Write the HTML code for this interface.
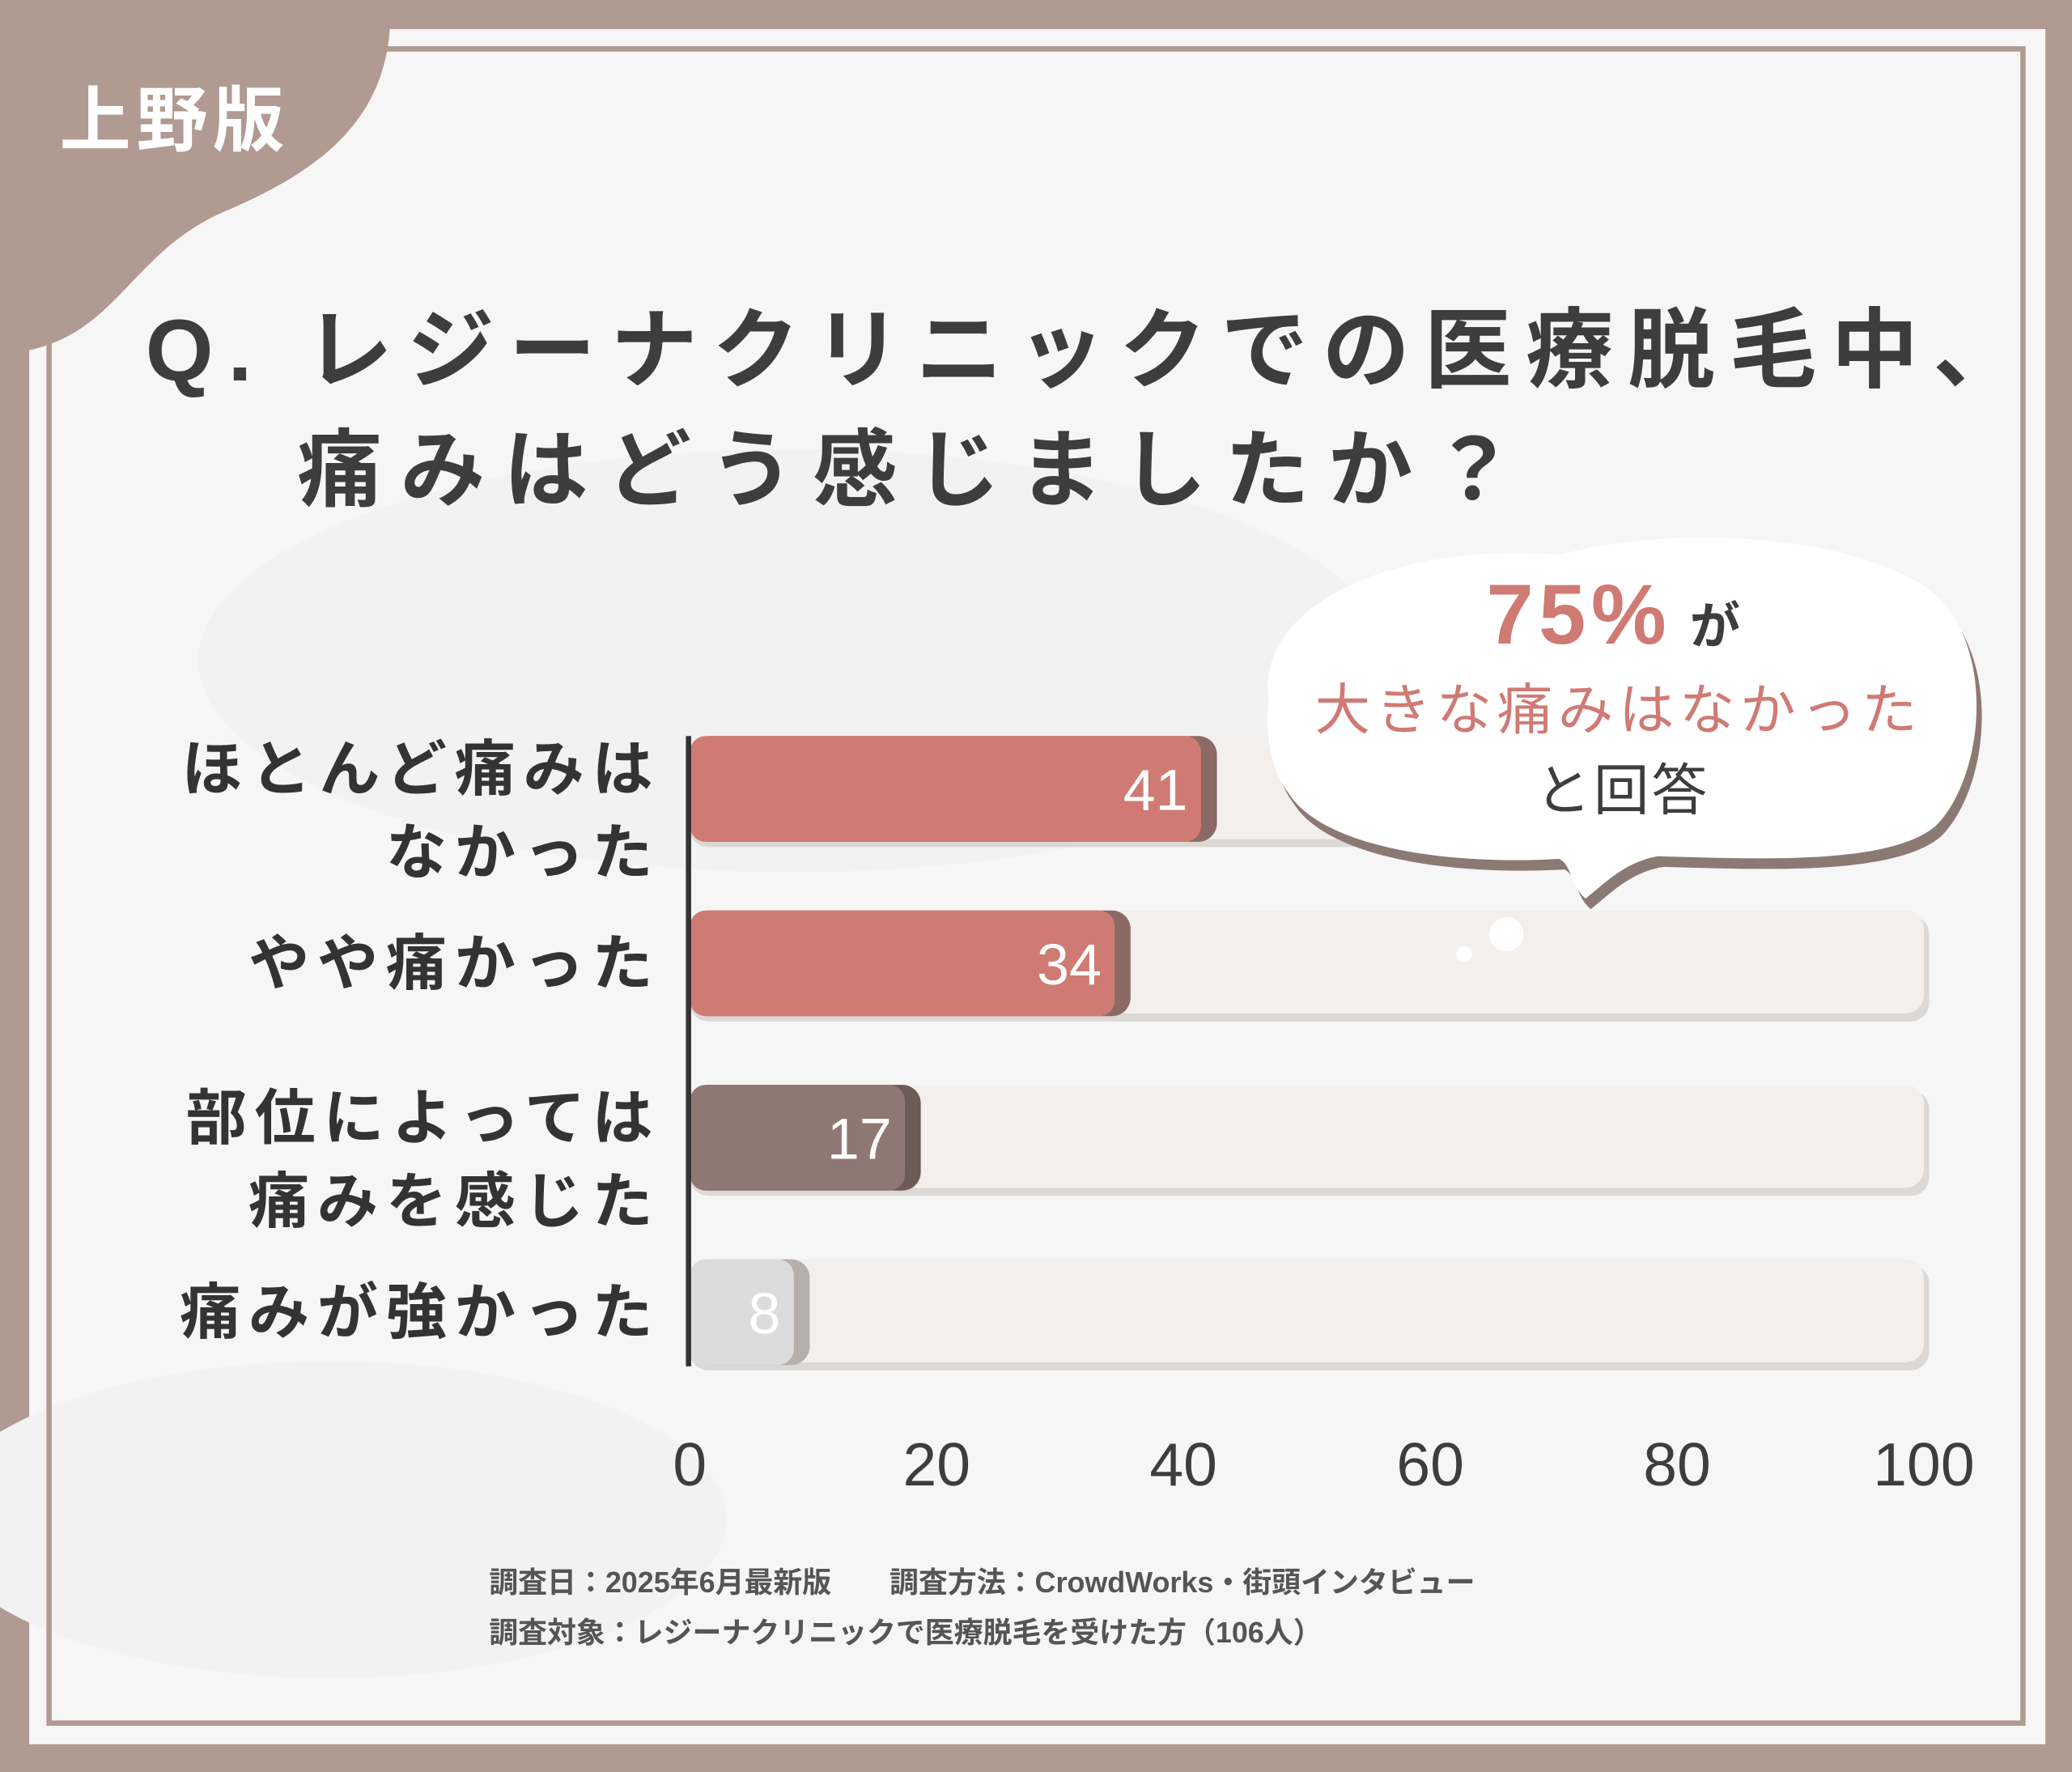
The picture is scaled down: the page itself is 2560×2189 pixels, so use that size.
<!DOCTYPE html>
<html><head><meta charset="utf-8">
<style>
html,body{margin:0;padding:0;background:#b09a92;}
svg{display:block;}
text{font-family:"Liberation Sans","Noto Sans CJK JP",sans-serif;}
</style></head>
<body>
<svg id="chart" width="2560" height="2189" viewBox="0 0 1568 1341" xmlns="http://www.w3.org/2000/svg">
<rect x="0" y="0" width="1568" height="1341" fill="#b09a92"/>
<rect x="22" y="22" width="1526" height="1298" fill="#f7f6f6"/>
<ellipse cx="600" cy="500" rx="450" ry="160" fill="#f3f2f2"/>
<ellipse cx="250" cy="1150" rx="300" ry="120" fill="#f3f2f2"/>
<rect x="37" y="37" width="1494" height="1267" fill="none" stroke="#b09a92" stroke-width="4"/>
<path d="M0,0 L295,0 C300,90 240,130 170,160 C100,190 90,250 22,265 L0,265 Z" fill="#b09a92"/>
<text x="45" y="110" font-size="54" font-weight="bold" fill="#ffffff" letter-spacing="4">上野版</text>
<text x="110" y="288" font-size="66" font-weight="bold" fill="#3d3d3d" letter-spacing="11">Q. レジーナクリニックでの医療脱毛中、</text>
<text x="225" y="378" font-size="64" font-weight="bold" fill="#3d3d3d" letter-spacing="14">痛みはどう感じましたか？</text>
<g id="bars"></g>
<g id="cats"></g>
<line x1="521" y1="557" x2="521" y2="1034" stroke="#333" stroke-width="4"/>
<g id="ticks"></g>
<g>
<path transform="translate(4,8)" d="M960,530 C950,455 1060,410 1180,420 C1270,395 1420,405 1470,455 C1510,500 1500,590 1465,625 C1430,655 1330,650 1255,648 C1230,652 1215,668 1200,680 C1188,670 1190,655 1180,650 C1090,655 1000,640 975,600 C960,580 958,555 960,530 Z" fill="#8b7a74"/>
<path d="M960,530 C950,455 1060,410 1180,420 C1270,395 1420,405 1470,455 C1510,500 1500,590 1465,625 C1430,655 1330,650 1255,648 C1230,652 1215,668 1200,680 C1188,670 1190,655 1180,650 C1090,655 1000,640 975,600 C960,580 958,555 960,530 Z" fill="#ffffff"/>
<text x="1195" y="487" text-anchor="middle" font-size="64" font-weight="bold" fill="#d07a74" letter-spacing="4">75%</text>
<text x="1298" y="487" text-anchor="middle" font-size="38" font-weight="bold" fill="#3d3d3d">が</text>
<text x="1225" y="552" text-anchor="middle" font-size="42" fill="#d07a74" letter-spacing="4">大きな痛みはなかった</text>
<text x="1228" y="613" text-anchor="middle" font-size="42" fill="#3d3d3d" letter-spacing="2">と回答</text>
</g>
<circle cx="1140" cy="707" r="13" fill="#ffffff"/>
<circle cx="1108" cy="722" r="6" fill="#ffffff"/>
<text x="370" y="1205" font-size="22" font-weight="bold" fill="#555">調査日：2025年6月最新版　　調査方法：CrowdWorks・街頭インタビュー</text>
<text x="370" y="1243" font-size="22" font-weight="bold" fill="#555">調査対象：レジーナクリニックで医療脱毛を受けた方（106人）</text>
</svg>
<script>
const categories = [["ほとんど痛みは","なかった"],["やや痛かった"],["部位によっては","痛みを感じた"],["痛みが強かった"]];
const values = [41, 34, 17, 8];
const tickValues = [0, 20, 40, 60, 80, 100];
const fills = ["#d07a74","#d07a74","#8f7774","#dcdcdc"];
const edges = ["#8b6a66","#8b6a66","#6e5a57","#b5b0ae"];
const NS = "http://www.w3.org/2000/svg";
const x0 = 522, x1 = 1456;
function xs(v){ return x0 + (x1 - x0) * v / 100; }
const rowTop = 557, rowStep = 132, barH = 80;
function ys(i){ return rowTop + i * rowStep; }
function mk(tag, attrs, parent){ const e = document.createElementNS(NS, tag); for (const k in attrs) e.setAttribute(k, attrs[k]); parent.appendChild(e); return e; }
const bars = document.getElementById('bars');
const cats = document.getElementById('cats');
const ticks = document.getElementById('ticks');
values.forEach((v, i) => {
  const y = ys(i);
  const ts = mk('rect', {x: x0, y: y + 4, width: x1 - x0 + 4, height: barH, rx: 14, fill: '#dcd8d6'}, bars);
  
  
  const tr = mk('rect', {x: x0, y: y, width: x1 - x0, height: barH - 2, rx: 14, fill: '#f2efed'}, bars);
  
  
  const w = xs(v) - x0 + 4;
  const be = mk('rect', {x: x0, y: y, width: w + 12, height: barH, rx: 14, fill: edges[i]}, bars);
  
  
  const b = mk('rect', {x: x0, y: y, width: w, height: barH, rx: 12, fill: fills[i]}, bars);
  
  
  const t = mk('text', {x: x0 + w - 10, y: y + barH / 2 + 16, 'text-anchor': 'end', 'font-size': 44, fill: '#ffffff'}, bars);
  
  
  t.textContent = v;
  const lines = categories[i];
  const c0 = y + barH / 2;
  lines.forEach((ln, j) => {
    const cy = lines.length === 1 ? c0 + 16 : c0 + 1 + j * 63;
    const c = mk('text', {x: 500, y: cy, 'text-anchor': 'end', 'font-size': 46, fill: '#333', 'font-weight': 'bold', 'letter-spacing': 6}, cats);
    
    
    c.textContent = ln;
  });
});
tickValues.forEach(tv => {
  const t = mk('text', {x: xs(tv), y: 1124, 'text-anchor': 'middle', 'font-size': 46, fill: '#3d3d3d'}, ticks);
  
  
  t.textContent = tv;
});
</script>
</body></html>
